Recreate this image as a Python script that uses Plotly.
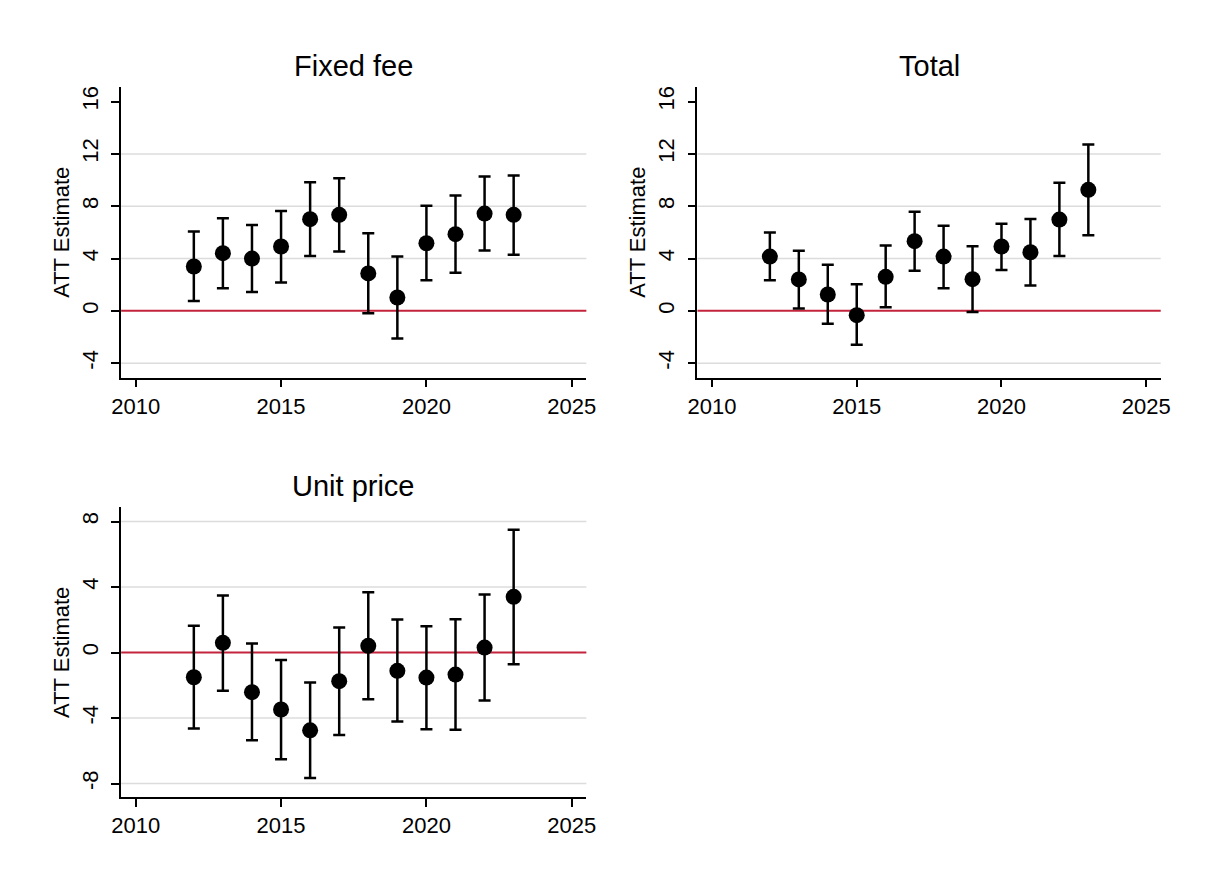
import plotly.graph_objects as go

# Event-study ATT estimates with 95% confidence bounds, by outcome
years = [2012, 2013, 2014, 2015, 2016, 2017, 2018, 2019, 2020, 2021, 2022, 2023]

fixed_fee_att = [3.39, 4.41, 4.00, 4.92, 7.01, 7.34, 2.86, 1.02, 5.17, 5.86, 7.44, 7.34]
fixed_fee_lo = [0.76, 1.73, 1.45, 2.17, 4.20, 4.54, -0.18, -2.11, 2.34, 2.91, 4.61, 4.28]
fixed_fee_hi = [6.06, 7.08, 6.57, 7.64, 9.84, 10.14, 5.94, 4.16, 8.03, 8.82, 10.27, 10.35]

total_att = [4.15, 2.40, 1.25, -0.33, 2.60, 5.33, 4.15, 2.42, 4.92, 4.48, 6.98, 9.25]
total_lo = [2.34, 0.18, -0.99, -2.60, 0.28, 3.06, 1.73, -0.08, 3.13, 1.94, 4.20, 5.78]
total_hi = [5.99, 4.59, 3.52, 2.04, 4.99, 7.57, 6.50, 4.94, 6.65, 7.03, 9.79, 12.72]

unit_price_att = [-1.51, 0.59, -2.42, -3.48, -4.75, -1.75, 0.41, -1.12, -1.53, -1.35, 0.30, 3.40]
unit_price_lo = [-4.64, -2.34, -5.36, -6.52, -7.66, -5.03, -2.85, -4.22, -4.68, -4.72, -2.93, -0.71]
unit_price_hi = [1.63, 3.48, 0.55, -0.45, -1.83, 1.53, 3.68, 2.01, 1.61, 2.03, 3.54, 7.49]

panel_titles = ["Fixed fee", "Total", "Unit price"]
x_ticks = [2010, 2015, 2020, 2025]
y_ticks_upper = [-4, 0, 4, 8, 12, 16]
y_ticks_lower = [-8, -4, 0, 4, 8]

FONT = "Liberation Sans, Arial, Helvetica, sans-serif"
GRID = "#dcdcdc"
ZERO = "#c3243c"

W, H = 1214, 882


def px_x(a, b):
    return [a / W, b / W]


def px_y(top, bottom):
    return [1 - bottom / H, 1 - top / H]


panels = [
    dict(att=fixed_fee_att, lo=fixed_fee_lo, hi=fixed_fee_hi, title=panel_titles[0],
         dx=px_x(113, 586), dy=px_y(86, 377), yr=[-5.1, 17.12], yt=y_ticks_upper,
         grid=[-4, 4, 8, 12]),
    dict(att=total_att, lo=total_lo, hi=total_hi, title=panel_titles[1],
         dx=px_x(699, 1170), dy=px_y(86, 377), yr=[-5.1, 17.12], yt=y_ticks_upper,
         grid=[-4, 4, 8, 12]),
    dict(att=unit_price_att, lo=unit_price_lo, hi=unit_price_hi, title=panel_titles[2],
         dx=px_x(113, 586), dy=px_y(507, 797), yr=[-8.83, 8.86], yt=y_ticks_lower,
         grid=[-8, -4, 4, 8]),
]

fig = go.Figure()
layout = dict(
    width=W, height=H,
    margin=dict(l=0, r=0, t=0, b=0),
    paper_bgcolor="white", plot_bgcolor="white",
    showlegend=False,
    font=dict(family=FONT, color="black", size=22),
)
shapes = []
annotations = []

for i, p in enumerate(panels, start=1):
    xa = "x" if i == 1 else f"x{i}"
    ya = "y" if i == 1 else f"y{i}"
    fig.add_trace(go.Scatter(
        x=years, y=p["att"], xaxis=xa, yaxis=ya, mode="markers",
        marker=dict(color="black", size=16, line=dict(width=0)),
        error_y=dict(
            type="data", symmetric=False,
            array=[h - a for h, a in zip(p["hi"], p["att"])],
            arrayminus=[a - l for a, l in zip(p["att"], p["lo"])],
            color="black", thickness=2.5, width=6,
        ),
        hoverinfo="x+y",
    ))
    key = "" if i == 1 else str(i)
    layout["xaxis" + key] = dict(
        domain=p["dx"], anchor=ya, range=[2009.5, 2025.5],
        tickvals=x_ticks, ticktext=[str(v) for v in x_ticks],
        ticks="outside", ticklen=8, tickwidth=1.5, tickcolor="black",
        showline=True, linecolor="black", linewidth=1.5, showgrid=False, zeroline=False,
        tickfont=dict(size=22, family=FONT), fixedrange=True,
    )
    layout["yaxis" + key] = dict(
        domain=p["dy"], anchor=xa, range=p["yr"],
        tickvals=p["yt"], ticktext=[str(v) for v in p["yt"]],
        ticks="outside", ticklen=8, tickwidth=1.5, tickcolor="black",
        tickangle=-90, ticklabelstandoff=5,
        showline=True, linecolor="black", linewidth=1.5,
        showgrid=False, zeroline=False,
        tickfont=dict(size=22, family=FONT), fixedrange=True,
        title=dict(text="ATT Estimate", font=dict(size=22, family=FONT), standoff=2),
    )
    for g in p["grid"]:
        shapes.append(dict(type="line", xref=f"{xa} domain", yref=ya, x0=0, x1=1, y0=g, y1=g,
                           line=dict(color=GRID, width=1.5), layer="below"))
    shapes.append(dict(type="line", xref=f"{xa} domain", yref=ya, x0=0, x1=1, y0=0, y1=0,
                       line=dict(color=ZERO, width=2), layer="below"))
    annotations.append(dict(
        text=p["title"], xref=f"{xa} domain", yref=f"{ya} domain", x=0.5, y=1,
        xanchor="center", yanchor="bottom", yshift=3, showarrow=False,
        font=dict(size=29, family=FONT, color="black"),
    ))

layout["shapes"] = shapes
layout["annotations"] = annotations
fig.update_layout(**layout)
fig.write_html("out.html")
